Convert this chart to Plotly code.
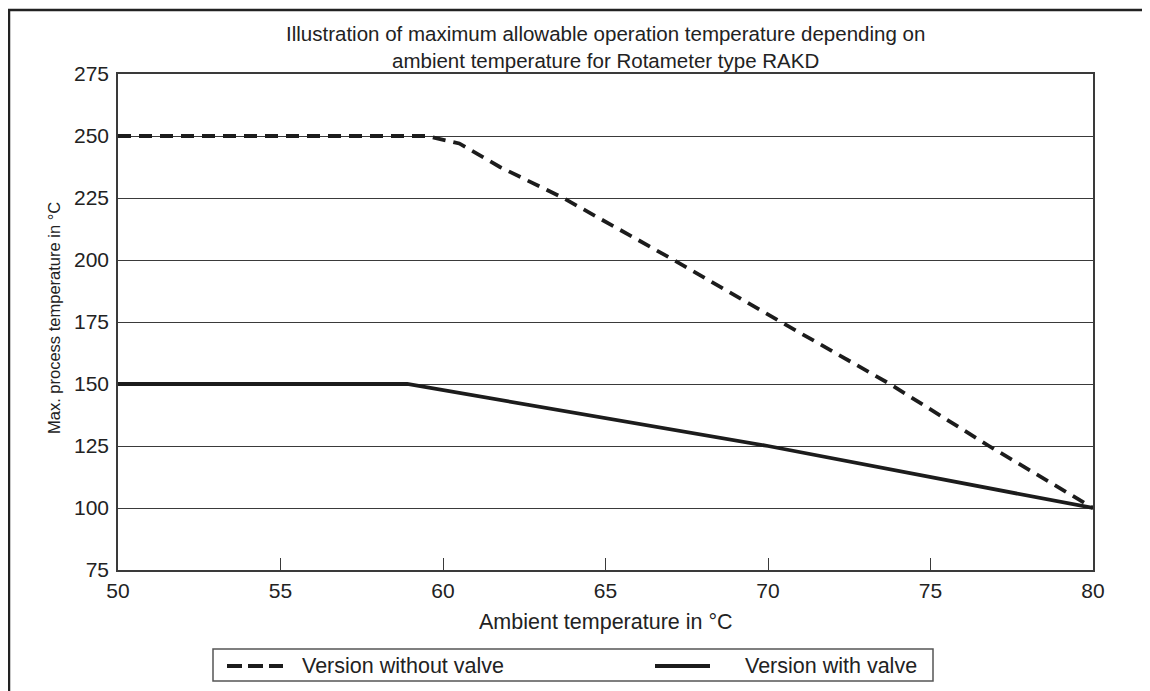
import plotly.graph_objects as go

# Data
ambient_no_valve = [50, 59.5, 60.5, 61.75, 63.7, 67.1, 70.4, 73.75, 76.8, 80]
process_no_valve = [250, 250, 247, 237.5, 225, 200, 175, 150, 125, 100]

ambient_valve = [50, 58.9, 70, 80]
process_valve = [150, 150, 125, 100]

x_ticks = [50, 55, 60, 65, 70, 75, 80]
y_ticks = [75, 100, 125, 150, 175, 200, 225, 250, 275]

series_names = ["Version without valve", "Version with valve"]

FONT = "Liberation Sans, Arial, sans-serif"
AX = "#3a3a3a"
INK = "#1c1c1c"
TXT = "#222222"

W, H = 1150, 691
OFF = 8  # page body margin in the screenshot
# plot area in screen pixels: x 118..1093, y 74..570
L = 118 - OFF
R = W - (1093 - OFF)
T = 74 - OFF
B = H - (570 - OFF)
pw, ph = W - L - R, H - T - B


def px(xs):
    return (xs - OFF - L) / pw


def py(ys):
    return (H - B - (ys - OFF)) / ph


fig = go.Figure()
fig.add_trace(go.Scatter(
    x=ambient_no_valve, y=process_no_valve, mode="lines",
    name=series_names[0],
    line=dict(color=INK, width=3.8, dash="13px,8px"),
))
fig.add_trace(go.Scatter(
    x=ambient_valve, y=process_valve, mode="lines",
    name=series_names[1],
    line=dict(color=INK, width=3.8),
))

annotations = [
    dict(text="Illustration of maximum allowable operation temperature depending on<br>ambient temperature for Rotameter type RAKD",
         xref="paper", yref="paper",
         x=px(605), y=py(47), xanchor="center", yanchor="middle",
         showarrow=False, font=dict(family=FONT, size=20.5, color=TXT)),
    dict(text="Ambient temperature in °C", xref="paper", yref="paper",
         x=px(606), y=py(622), xanchor="center", yanchor="middle",
         showarrow=False, font=dict(family=FONT, size=21.5, color=TXT)),
    dict(text="Max. process temperature in °C", xref="paper", yref="paper",
         x=px(54), y=py(318), xanchor="center", yanchor="middle",
         textangle=-90, showarrow=False,
         font=dict(family=FONT, size=16.5, color=TXT)),
    dict(text=series_names[0], xref="paper", yref="paper",
         x=px(300), y=py(666), xanchor="left", yanchor="middle",
         showarrow=False, font=dict(family=FONT, size=21.5, color=TXT)),
    dict(text=series_names[1], xref="paper", yref="paper",
         x=px(743), y=py(666), xanchor="left", yanchor="middle",
         showarrow=False, font=dict(family=FONT, size=21.5, color=TXT)),
]

shapes = [
    # outer frame (top and left edges)
    dict(type="line", xref="paper", yref="paper",
         x0=px(8), x1=px(1170), y0=py(10), y1=py(10),
         line=dict(color="#222222", width=2.5)),
    dict(type="line", xref="paper", yref="paper",
         x0=px(9), x1=px(9), y0=py(10), y1=py(710),
         line=dict(color="#222222", width=2.5)),
    # legend box
    dict(type="rect", xref="paper", yref="paper",
         x0=px(213), x1=px(933), y0=py(649), y1=py(681),
         line=dict(color="#555555", width=1.5), fillcolor="white"),
    # legend samples
    dict(type="line", xref="paper", yref="paper",
         x0=px(227), x1=px(283), y0=py(666), y1=py(666),
         line=dict(color=INK, width=3.8, dash="15px,6px")),
    dict(type="line", xref="paper", yref="paper",
         x0=px(655), x1=px(710), y0=py(666), y1=py(666),
         line=dict(color=INK, width=3.8)),
]

fig.update_layout(
    width=W, height=H,
    margin=dict(l=L, r=R, t=T, b=B, autoexpand=False),
    paper_bgcolor="white", plot_bgcolor="white",
    font=dict(family=FONT, size=21, color=TXT),
    showlegend=False,
    xaxis=dict(
        range=[50, 80], tickvals=x_ticks,
        showgrid=False, zeroline=False, automargin=False,
        showline=True, linecolor=AX, linewidth=1.5, mirror=True,
        ticks="inside", ticklen=12, tickcolor=AX, tickwidth=1.2,
        ticklabelstandoff=1,
        tickfont=dict(size=21),
    ),
    yaxis=dict(
        range=[75, 275], tickvals=y_ticks,
        showgrid=True, gridcolor=AX, gridwidth=1.2, zeroline=False,
        automargin=False,
        showline=True, linecolor=AX, linewidth=1.5, mirror=True,
        ticks="", ticklabelstandoff=3,
        tickfont=dict(size=21),
    ),
    annotations=annotations,
    shapes=shapes,
)

fig.write_html("out.html")
